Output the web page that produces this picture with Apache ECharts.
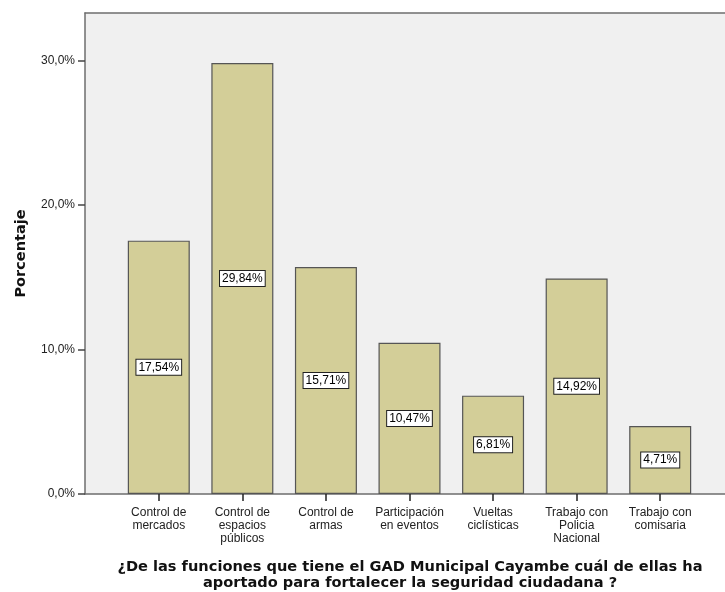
<!DOCTYPE html>
<html>
<head>
<meta charset="utf-8">
<script src="https://cdn.jsdelivr.net/npm/echarts@6/dist/echarts.min.js"></script>
<style>
  html, body { margin: 0; padding: 0; background: #fff; }
  #chart-container { width: 725px; height: 592px; }
</style>
</head>
<body>
<div id="chart-container"></div>
<script>
// data
var categories = [
  "Control de\nmercados",
  "Control de\nespacios\npúblicos",
  "Control de\narmas",
  "Participación\nen eventos",
  "Vueltas\nciclísticas",
  "Trabajo con\nPolicia\nNacional",
  "Trabajo con\ncomisaria"
];
var percentages = [17.54, 29.84, 15.71, 10.47, 6.81, 14.92, 4.71];
var yTicks = [0, 10, 20, 30];

var chartDom = document.getElementById("chart-container");
var myChart = echarts.init(chartDom);

var fontName = "Liberation Sans, Arial, sans-serif";
var titleFont = "DejaVu Sans, Verdana, sans-serif";

function pct(v, digits) {
  return v.toFixed(digits).replace(".", ",") + "%";
}

// frame lines of the background panel (top and bottom only)
var frameLine = { show: true, onZero: false, lineStyle: { color: "#6e6e6e", width: 1.5 } };

var option = {
  animation: false,
  title: {
    text: "¿De las funciones que tiene el GAD Municipal Cayambe cuál de ellas ha\naportado para fortalecer la seguridad ciudadana ?",
    left: 405,
    top: 554,
    textAlign: "center",
    textStyle: {
      fontFamily: titleFont,
      fontSize: 14.6,
      fontWeight: "bold",
      color: "#111",
      lineHeight: 16
    }
  },
  grid: [
    // background panel, open on the right
    {
      left: 85, right: 0, top: 13, bottom: 98,
      show: true,
      backgroundColor: "#f0f0f0",
      borderWidth: 0
    },
    // bars
    { left: 117, right: 23, top: 13, bottom: 98 }
  ],
  xAxis: [
    {
      gridIndex: 0, type: "value", position: "top", min: 0, max: 1,
      axisLine: frameLine, axisTick: { show: false },
      axisLabel: { show: false }, splitLine: { show: false }
    },
    {
      gridIndex: 0, type: "value", position: "bottom", min: 0, max: 1,
      axisLine: frameLine, axisTick: { show: false },
      axisLabel: { show: false }, splitLine: { show: false }
    },
    {
      gridIndex: 1,
      type: "category",
      data: categories,
      axisLine: { show: false },
      axisTick: {
        show: true,
        alignWithLabel: true,
        length: 7,
        lineStyle: { color: "#222", width: 1.5 }
      },
      axisLabel: {
        fontFamily: fontName,
        fontSize: 12,
        color: "#222",
        lineHeight: 13,
        margin: 12,
        interval: 0
      }
    }
  ],
  yAxis: [
    { gridIndex: 0, type: "value", show: false, min: 0, max: 1 },
    {
      gridIndex: 1,
      type: "value",
      min: 0,
      max: 33.3,
      offset: 32,
      name: "Porcentaje",
      nameLocation: "middle",
      nameGap: 56,
      nameTextStyle: {
        fontFamily: titleFont,
        fontSize: 14.5,
        fontWeight: "bold",
        color: "#111"
      },
      splitLine: { show: false },
      axisLine: frameLine,
      axisTick: {
        show: true,
        length: 7,
        customValues: yTicks,
        lineStyle: { color: "#444", width: 1.5 }
      },
      axisLabel: {
        fontFamily: fontName,
        fontSize: 12,
        color: "#222",
        margin: 10,
        customValues: yTicks,
        formatter: function (v) { return pct(v, 1); }
      }
    }
  ],
  series: [
    {
      name: "Porcentaje",
      type: "bar",
      xAxisIndex: 2,
      yAxisIndex: 1,
      data: percentages,
      barWidth: 62,
      itemStyle: {
        color: "#d3ce98",
        borderColor: "#555",
        borderWidth: 1.2
      },
      label: {
        show: true,
        position: "inside",
        fontFamily: fontName,
        fontSize: 12,
        color: "#000",
        backgroundColor: "#fff",
        borderColor: "#222",
        borderWidth: 1,
        padding: [2, 2, 1, 2],
        formatter: function (p) { return pct(p.value, 2); }
      }
    }
  ]
};

myChart.setOption(option);
</script>
</body>
</html>
